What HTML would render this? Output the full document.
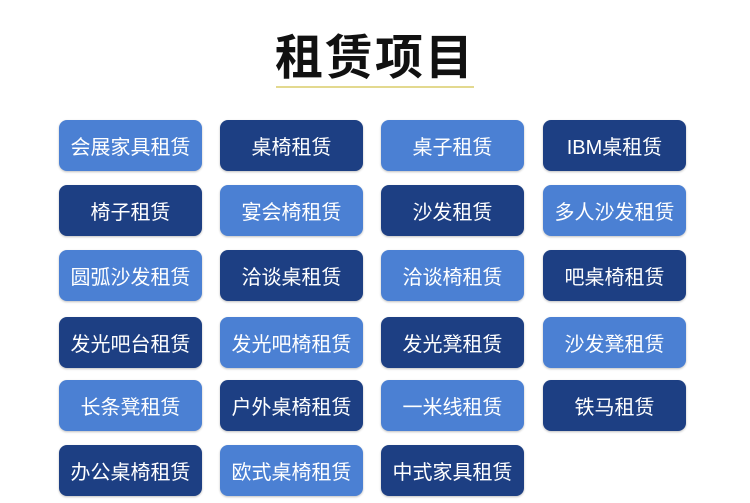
<!DOCTYPE html>
<html><head><meta charset="utf-8"><style>
body{margin:0;width:750px;height:503px;background:#fff;position:relative;overflow:hidden;font-family:"Liberation Sans","Noto Sans CJK SC",sans-serif}
.t{position:absolute;left:0;width:750px;top:18px;text-align:center;font-size:48px;font-weight:bold;color:#111;letter-spacing:2px}
.u{position:absolute;left:276px;top:86px;width:198px;height:2px;background:#e3d98f}
.b{position:absolute;width:143px;height:51px;border-radius:8px;color:#fff;font-size:20px;display:flex;align-items:center;justify-content:center;box-shadow:0 1px 2px rgba(0,0,0,.25)}
.l{background:#4b80d3}.d{background:#1d3f83}
</style></head><body>
<div class="t">租赁项目</div><div class="u"></div>
<div class="b l" style="left:59px;top:120px">会展家具租赁</div>
<div class="b d" style="left:220px;top:120px">桌椅租赁</div>
<div class="b l" style="left:381px;top:120px">桌子租赁</div>
<div class="b d" style="left:543px;top:120px">IBM桌租赁</div>
<div class="b d" style="left:59px;top:185px">椅子租赁</div>
<div class="b l" style="left:220px;top:185px">宴会椅租赁</div>
<div class="b d" style="left:381px;top:185px">沙发租赁</div>
<div class="b l" style="left:543px;top:185px">多人沙发租赁</div>
<div class="b l" style="left:59px;top:250px">圆弧沙发租赁</div>
<div class="b d" style="left:220px;top:250px">洽谈桌租赁</div>
<div class="b l" style="left:381px;top:250px">洽谈椅租赁</div>
<div class="b d" style="left:543px;top:250px">吧桌椅租赁</div>
<div class="b d" style="left:59px;top:317px">发光吧台租赁</div>
<div class="b l" style="left:220px;top:317px">发光吧椅租赁</div>
<div class="b d" style="left:381px;top:317px">发光凳租赁</div>
<div class="b l" style="left:543px;top:317px">沙发凳租赁</div>
<div class="b l" style="left:59px;top:380px">长条凳租赁</div>
<div class="b d" style="left:220px;top:380px">户外桌椅租赁</div>
<div class="b l" style="left:381px;top:380px">一米线租赁</div>
<div class="b d" style="left:543px;top:380px">铁马租赁</div>
<div class="b d" style="left:59px;top:445px">办公桌椅租赁</div>
<div class="b l" style="left:220px;top:445px">欧式桌椅租赁</div>
<div class="b d" style="left:381px;top:445px">中式家具租赁</div>
</body></html>
